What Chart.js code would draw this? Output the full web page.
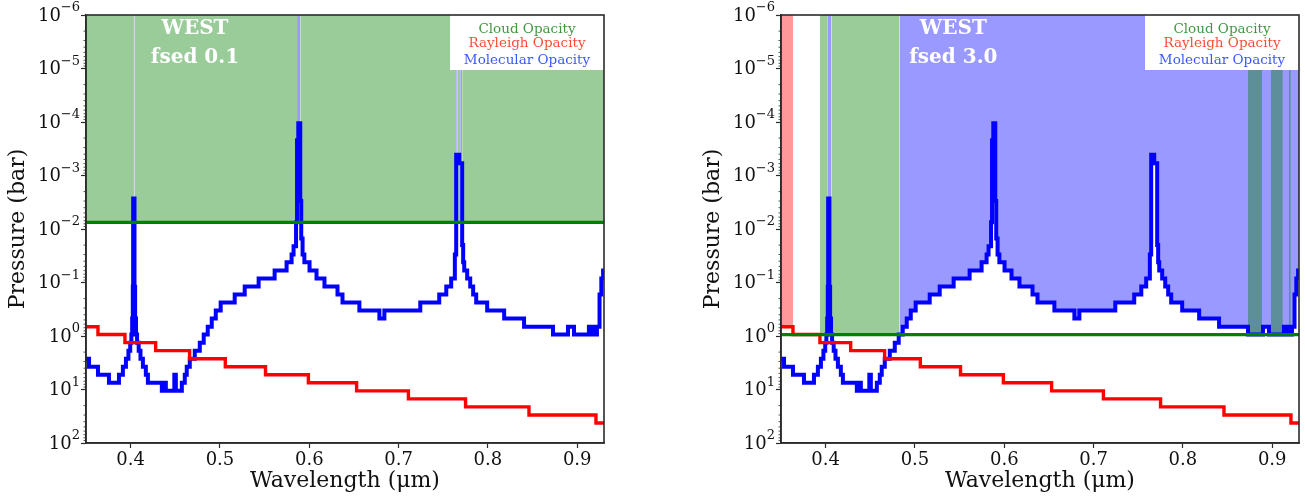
<!DOCTYPE html>
<html>
<head>
<meta charset="utf-8">
<script src="https://cdn.jsdelivr.net/npm/chart.js@4.4.1/dist/chart.umd.min.js"></script>
<style>
  body { margin: 0; background: #fff; width: 1305px; height: 496px; overflow: hidden; position: relative; }
  .panel { position: absolute; top: 0; height: 496px; }
</style>
</head>
<body>
<div class="panel" style="left:0;width:650px"><canvas id="left" width="650" height="496"></canvas></div>
<div class="panel" style="left:650px;width:655px"><canvas id="right" width="655" height="496"></canvas></div>
<script>
// tick labels
const xTicks = [0.4, 0.5, 0.6, 0.7, 0.8, 0.9];
const yTicks = [1e-6, 1e-5, 1e-4, 1e-3, 1e-2, 1e-1, 1e0, 1e1, 1e2];

// molecular opacity: tau=1 pressure (bar), stepped, each value holds from its wavelength on
const molWave = [0.3500, 0.3534, 0.3634, 0.3757, 0.3869, 0.3913, 0.3947, 0.3975, 0.3995, 0.4008,
  0.4017, 0.4024, 0.4028, 0.4043, 0.4050, 0.4060, 0.4072, 0.4090, 0.4110, 0.4137,
  0.4170, 0.4193, 0.4349, 0.4371, 0.4394, 0.4489, 0.4506, 0.4573, 0.4606, 0.4628,
  0.4662, 0.4718, 0.4774, 0.4818, 0.4863, 0.4908, 0.4953, 0.5008, 0.5165, 0.5277,
  0.5433, 0.5612, 0.5746, 0.5802, 0.5824, 0.5852, 0.5863, 0.5877, 0.5899, 0.5910,
  0.5925, 0.5945, 0.6003, 0.6081, 0.6170, 0.6316, 0.6372, 0.6561, 0.6785, 0.6841,
  0.7243, 0.7455, 0.7534, 0.7589, 0.7630, 0.7645, 0.7679, 0.7712, 0.7723, 0.7735,
  0.7768, 0.7802, 0.7835, 0.7869, 0.7992, 0.8182, 0.8405, 0.8729, 0.8897, 0.8964,
  0.9131, 0.9150, 0.9165, 0.9180, 0.9221, 0.9250, 0.9270, 0.9290, 0.9300];
const molP = [2.66, 3.76, 5.31, 7.5, 5.31, 3.76, 2.66, 1.88, 1.33, 0.94,
  0.47, 0.12, 0.0027, 0.12, 0.47, 0.94, 1.33, 1.88, 2.66, 3.76,
  5.31, 7.5, 10.6, 7.5, 10.6, 5.31, 10.6, 7.5, 5.31, 3.76,
  2.66, 1.88, 1.33, 0.94, 0.67, 0.47, 0.335, 0.237, 0.168, 0.119,
  0.084, 0.0596, 0.042, 0.030, 0.021, 0.0075, 0.00022, 0.000105, 0.003, 0.015,
  0.030, 0.042, 0.0596, 0.084, 0.119, 0.168, 0.237, 0.335, 0.47, 0.335,
  0.237, 0.168, 0.119, 0.084, 0.030, 0.00041, 0.00059, 0.020, 0.042, 0.0596,
  0.084, 0.119, 0.168, 0.237, 0.335, 0.47, 0.67, 0.94, 0.67, 0.94,
  0.67, 0.94, 0.67, 0.94, 0.67, 0.168, 0.084, 0.0596, 0.0596];

// rayleigh opacity
const rayWave = [0.350, 0.3634, 0.3936, 0.428, 0.466, 0.506, 0.551, 0.599, 0.653, 0.711, 0.775, 0.846, 0.921, 0.930];
const rayP = [0.67, 0.94, 1.33, 1.88, 2.66, 3.76, 5.31, 7.5, 10.6, 15, 21.1, 29.9, 42.2, 42.2];

// cloud opacity (flat)
const cloudLeft = 0.0075;
const cloudRight = 0.94;

// wavelength ranges where each opacity dominates
const leftCloudSpans = [[0.35, 0.4028], [0.4043, 0.5863], [0.5899, 0.7645], [0.7662, 0.7690], [0.7712, 0.93]];
const leftMolSpans = [[0.4028, 0.4043], [0.5863, 0.5899], [0.7645, 0.7662], [0.7690, 0.7712]];
const leftRaySpans = [];
const rightCloudSpans = [[0.3935, 0.4025], [0.4065, 0.4827], [0.8729, 0.8885], [0.8985, 0.9119], [0.9186, 0.9208]];
const rightMolSpans = [[0.4025, 0.4065], [0.4827, 0.93]];
const rightRaySpans = [[0.35, 0.3634]];

const legendNames = ['Cloud Opacity', 'Rayleigh Opacity', 'Molecular Opacity'];
const legendColors = ['rgba(0,115,0,0.75)', 'rgba(255,30,0,0.8)', 'rgba(0,40,255,0.78)'];

const SERIF = '"DejaVu Serif", serif';

function stepAt(xs, ys, x) {
  let v = ys[0];
  for (let i = 0; i < xs.length; i++) { if (xs[i] <= x) v = ys[i]; }
  return v;
}
function spanPoints(xs, ys, a, b) {
  const pts = [{ x: a, y: stepAt(xs, ys, a) }];
  xs.forEach((x, i) => { if (x > a && x < b) pts.push({ x: x, y: ys[i] }); });
  pts.push({ x: b, y: stepAt(xs, ys, b) });
  return pts;
}
function fillSet(points, color, order) {
  return { data: points, stepped: true, borderWidth: 1, borderColor: 'rgba(0,0,0,0)',
    pointRadius: 0, backgroundColor: color, fill: { value: 1e-6 }, order: order };
}

const decor = {
  id: 'decor',
  afterDatasetsDraw(chart, args, opts) {
    const { ctx, chartArea: a, scales: { x, y } } = chart;
    ctx.save();
    // white box with the opacity names
    ctx.fillStyle = '#fff';
    ctx.fillRect(a.right - 154, a.top, 154, 55);
    ctx.font = '13.5px ' + SERIF;
    ctx.textAlign = 'center';
    ctx.textBaseline = 'middle';
    const offs = [14, 28, 45];
    legendNames.forEach((t, i) => {
      ctx.fillStyle = legendColors[i];
      ctx.fillText(t, a.right - 77, a.top + offs[i]);
    });
    // panel label
    ctx.fillStyle = '#fff';
    ctx.font = 'bold 20px ' + SERIF;
    const tx = x.getPixelForValue(opts.textX);
    ctx.fillText('WEST', tx, a.top + 14);
    ctx.fillText(opts.label, tx, a.top + 43);
    // frame
    ctx.strokeStyle = '#2b2b2b';
    ctx.lineWidth = 1.6;
    ctx.strokeRect(a.left, a.top, a.right - a.left, a.bottom - a.top);
    // minor log ticks
    ctx.lineWidth = 0.8;
    for (let d = -6; d < 2; d++) {
      for (let k = 2; k <= 9; k++) {
        const py = y.getPixelForValue(k * Math.pow(10, d));
        ctx.beginPath();
        ctx.moveTo(a.left - 2.5, py);
        ctx.lineTo(a.left, py);
        ctx.stroke();
      }
    }
    // y tick labels 10^n
    ctx.fillStyle = '#111';
    ctx.textBaseline = 'middle';
    yTicks.forEach(v => {
      const e = Math.round(Math.log10(v));
      const es = (e < 0 ? '\u2212' : '') + Math.abs(e);
      const py = y.getPixelForValue(v);
      ctx.font = '13px ' + SERIF;
      const ew = ctx.measureText(es).width;
      const right = a.left - 6;
      ctx.textAlign = 'left';
      ctx.fillText(es, right - ew, py - 7);
      ctx.font = '18px ' + SERIF;
      ctx.textAlign = 'right';
      ctx.fillText('10', right - ew, py + 1);
    });
    ctx.restore();
  }
};

function makeChart(id, cloud, cloudSpans, molSpans, raySpans, pad, textX, label) {
  const datasets = [];
  datasets.push({ data: molWave.map((x, i) => ({ x: x, y: molP[i] })), stepped: true,
    borderColor: '#0000ff', borderWidth: 4, pointRadius: 0, fill: false, order: 2 });
  datasets.push({ data: rayWave.map((x, i) => ({ x: x, y: rayP[i] })), stepped: true,
    borderColor: '#ff0000', borderWidth: 3.4, pointRadius: 0, fill: false, order: 1 });
  datasets.push({ data: [{ x: 0.35, y: cloud }, { x: 0.93, y: cloud }],
    borderColor: '#008000', borderWidth: 3.2, pointRadius: 0, fill: false, order: 0 });
  // fills: higher order is drawn first, so cloud (4) lands on top of molecular (6)
  molSpans.forEach(s => datasets.push(fillSet(spanPoints(molWave, molP, s[0], s[1]), 'rgba(0,0,255,0.4)', 6)));
  raySpans.forEach(s => datasets.push(fillSet(spanPoints(rayWave, rayP, s[0], s[1]), 'rgba(255,0,0,0.4)', 5)));
  cloudSpans.forEach(s => datasets.push(fillSet([{ x: s[0], y: cloud }, { x: s[1], y: cloud }], 'rgba(0,128,0,0.4)', 4)));

  return new Chart(document.getElementById(id), {
    type: 'line',
    data: { datasets: datasets },
    plugins: [decor],
    options: {
      responsive: false,
      animation: false,
      events: [],
      layout: { padding: pad },
      plugins: { legend: { display: false }, tooltip: { enabled: false }, decor: { textX: textX, label: label } },
      scales: {
        x: {
          type: 'linear', min: 0.35, max: 0.93,
          afterBuildTicks: s => { s.ticks = xTicks.map(v => ({ value: v })); },
          afterFit: s => { s.height = 53; },
          ticks: { font: { family: SERIF, size: 18 }, color: '#111', padding: 2, maxRotation: 0,
            autoSkip: false, callback: v => v.toFixed(1) },
          grid: { drawOnChartArea: false, tickLength: 5, color: '#2b2b2b', tickWidth: 1.2 },
          border: { color: '#2b2b2b', width: 1.6 },
          title: { display: true, text: 'Wavelength (μm)', color: '#111',
            font: { family: SERIF, size: 22 }, padding: { top: 0, bottom: 2 } }
        },
        y: {
          type: 'logarithmic', reverse: true, min: 1e-6, max: 1e2,
          afterBuildTicks: s => { s.ticks = yTicks.map(v => ({ value: v, major: true })); },
          afterFit: s => { s.width = 86; },
          ticks: { autoSkip: false, callback: () => '' },
          grid: { drawOnChartArea: false, tickLength: 5, color: '#2b2b2b', tickWidth: 1.2 },
          border: { color: '#2b2b2b', width: 1.6 },
          title: { display: true, text: 'Pressure (bar)', color: '#111',
            font: { family: SERIF, size: 22 }, padding: { top: 5, bottom: 0 } }
        }
      }
    }
  });
}

makeChart('left', cloudLeft, leftCloudSpans, leftMolSpans, leftRaySpans,
  { left: 0, right: 46, top: 15, bottom: 0 }, 0.472, 'fsed 0.1');
makeChart('right', cloudRight, rightCloudSpans, rightMolSpans, rightRaySpans,
  { left: 45, right: 6, top: 15, bottom: 0 }, 0.543, 'fsed 3.0');
</script>
</body>
</html>
